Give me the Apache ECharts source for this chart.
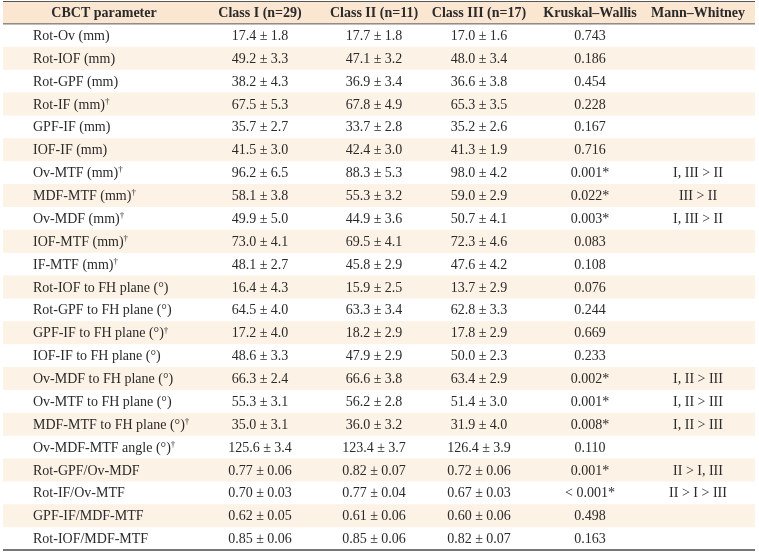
<!DOCTYPE html>
<html>
<head>
<meta charset="utf-8">
<script src="https://cdn.jsdelivr.net/npm/echarts@6/dist/echarts.min.js"></script>
<style>
html,body{margin:0;padding:0;background:#fff;}
#main{width:759px;height:555px;}
</style>
</head>
<body>
<div id="main"></div>
<script>
// ---- data ----
var headers = ['CBCT parameter', 'Class I (n=29)', 'Class II (n=11)', 'Class III (n=17)', 'Kruskal\u2013Wallis', 'Mann\u2013Whitney'];
var params = [
  'Rot-Ov (mm)', 'Rot-IOF (mm)', 'Rot-GPF (mm)', 'Rot-IF (mm)\u2020', 'GPF-IF (mm)', 'IOF-IF (mm)',
  'Ov-MTF (mm)\u2020', 'MDF-MTF (mm)\u2020', 'Ov-MDF (mm)\u2020', 'IOF-MTF (mm)\u2020', 'IF-MTF (mm)\u2020',
  'Rot-IOF to FH plane (\u00b0)', 'Rot-GPF to FH plane (\u00b0)', 'GPF-IF to FH plane (\u00b0)\u2020',
  'IOF-IF to FH plane (\u00b0)', 'Ov-MDF to FH plane (\u00b0)', 'Ov-MTF to FH plane (\u00b0)',
  'MDF-MTF to FH plane (\u00b0)\u2020', 'Ov-MDF-MTF angle (\u00b0)\u2020', 'Rot-GPF/Ov-MDF', 'Rot-IF/Ov-MTF',
  'GPF-IF/MDF-MTF', 'Rot-IOF/MDF-MTF'
];
var classI = ['17.4 \u00b1 1.8','49.2 \u00b1 3.3','38.2 \u00b1 4.3','67.5 \u00b1 5.3','35.7 \u00b1 2.7','41.5 \u00b1 3.0',
  '96.2 \u00b1 6.5','58.1 \u00b1 3.8','49.9 \u00b1 5.0','73.0 \u00b1 4.1','48.1 \u00b1 2.7','16.4 \u00b1 4.3',
  '64.5 \u00b1 4.0','17.2 \u00b1 4.0','48.6 \u00b1 3.3','66.3 \u00b1 2.4','55.3 \u00b1 3.1','35.0 \u00b1 3.1',
  '125.6 \u00b1 3.4','0.77 \u00b1 0.06','0.70 \u00b1 0.03','0.62 \u00b1 0.05','0.85 \u00b1 0.06'];
var classII = ['17.7 \u00b1 1.8','47.1 \u00b1 3.2','36.9 \u00b1 3.4','67.8 \u00b1 4.9','33.7 \u00b1 2.8','42.4 \u00b1 3.0',
  '88.3 \u00b1 5.3','55.3 \u00b1 3.2','44.9 \u00b1 3.6','69.5 \u00b1 4.1','45.8 \u00b1 2.9','15.9 \u00b1 2.5',
  '63.3 \u00b1 3.4','18.2 \u00b1 2.9','47.9 \u00b1 2.9','66.6 \u00b1 3.8','56.2 \u00b1 2.8','36.0 \u00b1 3.2',
  '123.4 \u00b1 3.7','0.82 \u00b1 0.07','0.77 \u00b1 0.04','0.61 \u00b1 0.06','0.85 \u00b1 0.06'];
var classIII = ['17.0 \u00b1 1.6','48.0 \u00b1 3.4','36.6 \u00b1 3.8','65.3 \u00b1 3.5','35.2 \u00b1 2.6','41.3 \u00b1 1.9',
  '98.0 \u00b1 4.2','59.0 \u00b1 2.9','50.7 \u00b1 4.1','72.3 \u00b1 4.6','47.6 \u00b1 4.2','13.7 \u00b1 2.9',
  '62.8 \u00b1 3.3','17.8 \u00b1 2.9','50.0 \u00b1 2.3','63.4 \u00b1 2.9','51.4 \u00b1 3.0','31.9 \u00b1 4.0',
  '126.4 \u00b1 3.9','0.72 \u00b1 0.06','0.67 \u00b1 0.03','0.60 \u00b1 0.06','0.82 \u00b1 0.07'];
var kruskalWallis = ['0.743','0.186','0.454','0.228','0.167','0.716','0.001*','0.022*','0.003*','0.083','0.108',
  '0.076','0.244','0.669','0.233','0.002*','0.001*','0.008*','0.110','0.001*','< 0.001*','0.498','0.163'];
var mannWhitney = ['','','','','','','I, III > II','III > II','I, III > II','','','','','','',
  'I, II > III','I, II > III','I, II > III','','II > I, III','II > I > III','',''];

// ---- layout (not data) ----
var TABLE_L = 3, TABLE_R = 755;
var COL_X = [33, 260, 374, 479, 590, 698];
var HEADER0_X = 104;
var FONT = '"Liberation Serif", "Times New Roman", serif';
var TEXT_COLOR = '#2a2a2a';

var rowKeys = ['__header__'].concat(params);
var columns = [params, classI, classII, classIII, kruskalWallis, mannWhitney];

// cell data: [colIndex, rowIndex]
var cellData = [];
for (var c = 0; c < headers.length; c++) cellData.push([c, 0]);
for (var r = 0; r < params.length; r++) {
  for (var c2 = 0; c2 < columns.length; c2++) cellData.push([c2, r + 1]);
}
var stripeData = [[0, 0]];
for (var r2 = 0; r2 < params.length; r2++) if (r2 % 2 === 1) stripeData.push([0, r2 + 1]);

function cellText(c, row) {
  if (row === 0) return headers[c];
  return columns[c][row - 1];
}

var chart = echarts.init(document.getElementById('main'), null, {renderer: 'canvas'});
chart.setOption({
  backgroundColor: '#ffffff',
  animation: false,
  grid: {left: 0, right: 0, top: 1, bottom: 5},
  xAxis: {type: 'value', min: 0, max: 759, show: false},
  yAxis: {type: 'category', data: rowKeys, inverse: true, show: false},
  series: [
    {
      type: 'custom',
      silent: true,
      data: stripeData,
      renderItem: function (params, api) {
        var row = api.value(1);
        var h = api.size([0, 1])[1];
        var p0 = api.coord([TABLE_L, row]);
        var p1 = api.coord([TABLE_R, row]);
        return {
          type: 'rect',
          shape: {x: p0[0], y: p0[1] - h / 2, width: p1[0] - p0[0], height: h},
          style: {fill: row === 0 ? '#fbe6d2' : '#fdf2e6'}
        };
      }
    },
    {
      type: 'custom',
      silent: true,
      data: [[0, 0], [0, params.length]],
      renderItem: function (p, api) {
        var row = api.value(1);
        var h = api.size([0, 1])[1];
        var p0 = api.coord([TABLE_L, row]);
        var p1 = api.coord([TABLE_R, row]);
        if (row === 0) {
          return {
            type: 'group',
            children: [
              {type: 'line', shape: {x1: p0[0], y1: p0[1] - h / 2 + 0.5, x2: p1[0], y2: p0[1] - h / 2 + 0.5},
               style: {stroke: '#555', lineWidth: 1}},
              {type: 'line', shape: {x1: p0[0], y1: p0[1] + h / 2, x2: p1[0], y2: p0[1] + h / 2},
               style: {stroke: '#555', lineWidth: 1}}
            ]
          };
        }
        return {type: 'line', shape: {x1: p0[0], y1: p0[1] + h / 2, x2: p1[0], y2: p0[1] + h / 2},
                style: {stroke: '#777', lineWidth: 2}};
      }
    },
    {
      type: 'custom',
      silent: true,
      data: cellData,
      renderItem: function (p, api) {
        var c = api.value(0);
        var row = api.value(1);
        var txt = cellText(c, row);
        if (!txt) return null;
        var header = row === 0;
        var x = (c === 0) ? (header ? HEADER0_X : COL_X[0]) : COL_X[c];
        var pt = api.coord([x, row]);
        var align = (c === 0 && !header) ? 'left' : 'center';
        var styled = txt;
        var rich = {
          n: {fontFamily: FONT, fontSize: 14, fontWeight: header ? 'bold' : 'normal', fill: TEXT_COLOR, lineHeight: 16},
          s: {fontFamily: FONT, fontSize: 9, fill: TEXT_COLOR, lineHeight: 9, verticalAlign: 'top'}
        };
        if (txt.charAt(txt.length - 1) === '\u2020') {
          styled = '{n|' + txt.slice(0, -1) + '}{s|\u2020}';
        } else {
          styled = '{n|' + txt + '}';
        }
        return {
          type: 'text',
          style: {
            text: styled,
            x: pt[0],
            y: pt[1] + 1,
            align: align,
            verticalAlign: 'middle',
            rich: rich,
            fill: TEXT_COLOR,
            font: (header ? 'bold ' : '') + '14px ' + FONT
          }
        };
      }
    }
  ]
});
</script>
</body>
</html>
